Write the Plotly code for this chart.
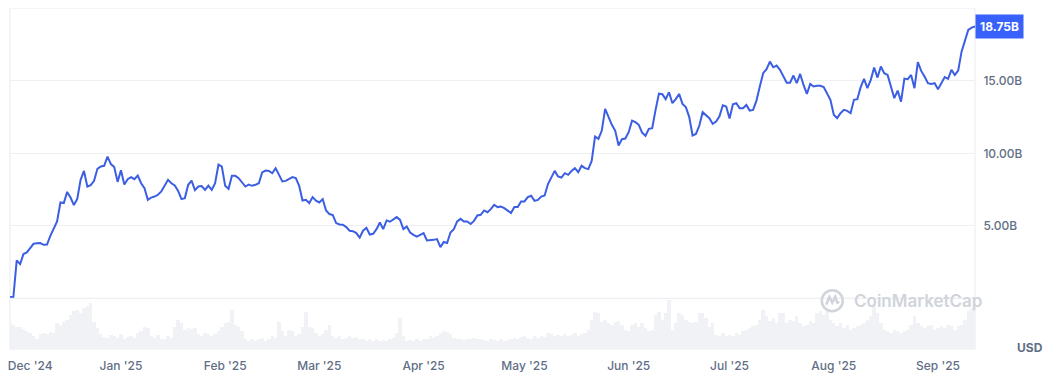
import pandas as pd
import plotly.graph_objects as go

# ---- data ----
start_date = "2024-11-29"
price_b = [
    0.08, 0.08, 2.61, 2.36, 3.05, 3.16, 3.46, 3.76, 3.79, 3.81, 3.69, 3.71, 4.31,
    4.81, 5.30, 6.61, 6.57, 7.34, 6.95, 6.43, 6.86, 8.17, 8.79, 7.71, 7.81, 8.10, 8.93, 9.09,
    9.14, 9.78, 9.26, 9.05, 8.03, 8.84, 7.85, 8.22, 8.36, 8.22, 8.47, 7.94, 7.60, 6.79, 6.95,
    7.02, 7.14, 7.37, 7.76, 8.17, 7.94, 7.78, 7.41, 6.84, 6.91, 7.83, 8.12, 7.46, 7.71, 7.74,
    7.48, 7.78, 7.48, 7.94, 9.23, 9.09, 7.76, 7.55, 8.45, 8.45, 8.29, 7.99, 7.71, 7.85, 7.76,
    7.83, 7.94, 8.68, 8.81, 8.79, 8.63, 8.98, 8.52, 8.06, 8.10, 8.22, 8.36, 8.29, 7.76, 6.74,
    6.79, 6.57, 6.98, 6.74, 6.61, 6.84, 6.06, 5.81, 5.74, 5.19, 5.09, 5.07, 4.91, 4.66, 4.63,
    4.50, 4.19, 4.66, 4.86, 4.40, 4.45, 4.77, 5.23, 4.77, 5.37, 5.28, 5.46, 5.60, 5.41, 4.77,
    4.95, 4.54, 4.38, 4.26, 4.38, 4.50, 3.99, 3.99, 4.03, 4.08, 3.53, 3.88, 3.81, 4.54, 4.77,
    5.30, 5.48, 5.30, 5.30, 5.12, 5.34, 5.71, 5.76, 6.06, 5.94, 6.15, 6.45, 6.29, 6.33, 6.22,
    6.06, 5.88, 6.29, 6.29, 6.68, 6.68, 6.98, 7.07, 6.72, 6.79, 7.02, 7.09, 7.88, 8.36, 8.79,
    8.40, 8.33, 8.63, 8.52, 8.79, 8.98, 8.70, 9.14, 8.98, 8.91, 9.48, 11.16, 11.00, 11.57, 13.07,
    12.50, 11.97, 11.55, 10.54, 10.98, 11.02, 11.46, 12.26, 12.15, 11.97, 11.43, 11.21, 11.69, 11.74, 13.00,
    14.12, 14.08, 13.74, 14.22, 13.46, 13.74, 14.10, 13.41, 13.19, 12.52, 11.23, 11.34, 11.90, 12.84, 12.66,
    12.43, 12.03, 12.19, 12.55, 13.32, 13.23, 12.40, 13.39, 13.46, 13.12, 13.12, 13.34, 12.95, 13.00, 13.64,
    14.61, 15.53, 15.81, 16.33, 15.94, 16.06, 15.76, 15.34, 14.88, 14.88, 15.37, 14.84, 15.48, 14.72, 14.10,
    14.79, 14.61, 14.66, 14.66, 14.57, 14.15, 13.69, 12.66, 12.43, 12.77, 13.00, 12.93, 12.77, 13.69, 13.74,
    14.57, 15.14, 14.50, 15.07, 15.92, 15.23, 15.99, 15.53, 15.41, 14.66, 13.81, 14.33, 13.57, 15.16, 15.12,
    15.41, 14.50, 16.29, 15.69, 15.30, 14.84, 14.79, 14.84, 14.43, 14.88, 15.26, 15.14, 15.76, 15.41, 15.71,
    17.02, 17.83, 18.52, 18.68, 18.75,
]
volume_musd = [
    520, 480, 440, 440, 400, 360, 320, 260, 200, 300, 320, 300, 340, 320, 520,
    480, 540, 580, 680, 760, 780, 720, 820, 860, 920, 540, 420, 300, 240, 220,
    280, 260, 220, 300, 200, 240, 260, 220, 320, 360, 440, 420, 260, 220, 280,
    200, 200, 260, 220, 440, 580, 520, 380, 420, 400, 420, 300, 260, 320, 300,
    260, 300, 360, 440, 520, 540, 780, 480, 440, 360, 200, 160, 200, 160, 200,
    220, 160, 200, 260, 220, 540, 360, 260, 380, 360, 260, 300, 440, 740, 440,
    420, 320, 260, 300, 380, 480, 260, 220, 260, 200, 220, 260, 220, 240, 200,
    200, 160, 200, 160, 200, 160, 180, 160, 200, 220, 320, 620, 260, 160, 180,
    160, 200, 160, 200, 200, 260, 220, 260, 320, 360, 340, 300, 220, 200, 200,
    180, 200, 200, 220, 200, 200, 180, 160, 200, 180, 160, 200, 160, 180, 200,
    220, 200, 240, 260, 220, 200, 260, 220, 260, 240, 320, 300, 260, 280, 260,
    300, 260, 280, 320, 260, 300, 320, 380, 580, 740, 720, 540, 580, 520, 480,
    540, 560, 480, 380, 360, 480, 520, 440, 520, 420, 360, 380, 680, 740, 580,
    720, 980, 380, 520, 720, 680, 580, 540, 520, 540, 720, 720, 620, 440, 520,
    280, 260, 320, 260, 280, 260, 320, 280, 360, 380, 420, 460, 480, 580, 780,
    660, 560, 620, 520, 720, 720, 520, 580, 560, 660, 520, 460, 480, 560, 520,
    720, 760, 680, 760, 580, 520, 460, 520, 420, 480, 380, 420, 460, 480, 520,
    580, 660, 860, 720, 520, 380, 360, 320, 380, 360, 320, 360, 380, 480, 660,
    520, 460, 420, 460, 480, 380, 420, 460, 420, 480, 460, 380, 460, 480, 580,
    760, 820, 860,
]
x_tick_dates = ["2024-12-05", "2025-01-01", "2025-02-01", "2025-03-01", "2025-04-01",
                "2025-05-01", "2025-06-01", "2025-07-01", "2025-08-01", "2025-09-01"]
x_tick_labels = ["Dec '24", "Jan '25", "Feb '25", "Mar '25", "Apr '25",
                 "May '25", "Jun '25", "Jul '25", "Aug '25", "Sep '25"]
y_tick_vals = [5, 10, 15]
y_tick_labels = ["5.00B", "10.00B", "15.00B"]
last_label = "18.75B"

dates = pd.date_range(start_date, periods=len(price_b), freq="D")

# ---- style ----
BLUE = "#3861fb"
LINE = "#3b5ee3"
GRID = "#eef0f3"
BORDER = "#e8ebef"
TXT = "#616e85"
WM = "#d0d4db"
FONT = "Inter"
split = 0.1488

fig = go.Figure()
fig.add_trace(go.Bar(x=dates, y=volume_musd, yaxis="y2",
                     marker=dict(color="#f0f2f5", line=dict(width=0)),
                     hoverinfo="skip", showlegend=False))
fig.add_trace(go.Scatter(x=dates, y=price_b, mode="lines", line=dict(color=LINE, width=2),
                         showlegend=False))

fig.update_layout(
    width=1044, height=366,
    margin=dict(l=0, r=77, t=0, b=25),
    paper_bgcolor="white", plot_bgcolor="white",
    font=dict(family=FONT, color=TXT, size=12),
    bargap=0,
    xaxis=dict(anchor="y2", range=[dates[0], dates[-1]], tickvals=x_tick_dates, ticktext=x_tick_labels,
               showgrid=False, zeroline=False, showline=False, ticks="outside", ticklen=6,
               ticklabeloverflow="allow",
               tickcolor="rgba(0,0,0,0)", tickfont=dict(family=FONT, size=12, color=TXT, weight=500)),
    yaxis=dict(domain=[split, 1], range=[0, 20.03], side="right", tickvals=y_tick_vals,
               ticktext=y_tick_labels, showgrid=True, gridcolor=GRID, gridwidth=1, zeroline=False,
               ticks="outside", ticklen=5, tickcolor="rgba(0,0,0,0)",
               tickfont=dict(family=FONT, size=12, color=TXT, weight=500)),
    yaxis2=dict(domain=[0, split], range=[0, 1016], showticklabels=False, showgrid=False,
                zeroline=False, anchor="x"),
    shapes=[
        dict(type="rect", xref="paper", yref="paper", x0=0, x1=1, y0=0, y1=1,
             line=dict(color=BORDER, width=1), layer="below"),
        dict(type="line", xref="paper", yref="paper", x0=0, x1=1, y0=split, y1=split,
             line=dict(color=BORDER, width=1)),
        dict(type="circle", xref="paper", yref="paper", xsizemode="pixel", ysizemode="pixel",
             xanchor=0.8521, yanchor=0.1415, x0=-10.5, x1=10.5, y0=-10.5, y1=10.5,
             line=dict(color=WM, width=2.5)),
        dict(type="path", xref="paper", yref="paper", xsizemode="pixel", ysizemode="pixel",
             xanchor=0.8521, yanchor=0.1415,
             path="M -6,-4 L -3,4 L 0,-2 L 3,4 L 5,-2 L 7,-1",
             line=dict(color=WM, width=2.5)),
    ],
    annotations=[
        dict(xref="paper", yref="y", x=1, y=price_b[-1], xanchor="left", yanchor="middle",
             text=f"<b>{last_label}</b>", showarrow=False, bgcolor=BLUE, borderpad=4,
             font=dict(family=FONT, size=12, color="white")),
        dict(xref="paper", yref="paper", x=1.0569, y=0.004, xanchor="center", yanchor="middle",
             text="USD", showarrow=False, font=dict(family=FONT, size=12, color=TXT, weight=700)),
        dict(xref="paper", yref="paper", x=0.8728, y=0.1415, xanchor="left", yanchor="middle",
             text="CoinMarketCap", showarrow=False,
             font=dict(family=FONT, size=17, color=WM, weight=600)),
    ],
)

fig.write_html("out.html")
